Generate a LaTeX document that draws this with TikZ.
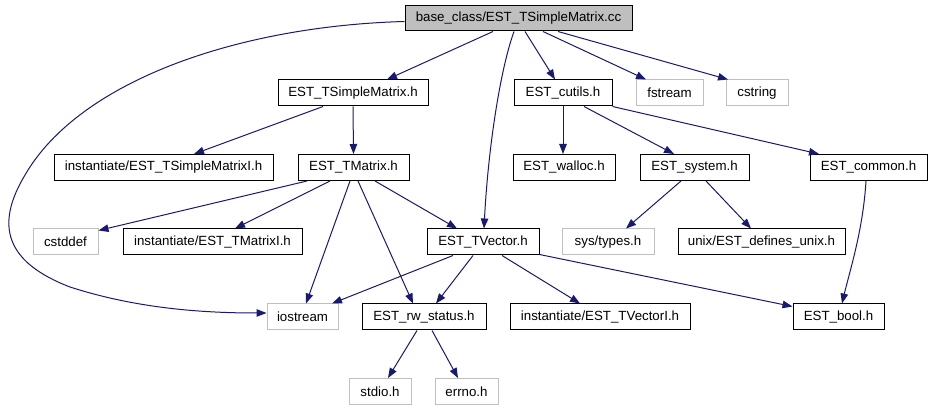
\documentclass[tikz,border=0pt]{standalone}
\usepackage{fontspec}
\setmainfont{Liberation Sans}
\usetikzlibrary{arrows.meta}
\definecolor{edgeblue}{HTML}{191970}
\definecolor{lgray}{HTML}{BFBFBF}
\begin{document}
\begin{tikzpicture}[x=1pt,y=-1pt,
  box/.style={draw=black, fill=white, line width=1pt, minimum height=26pt, inner sep=0pt,
    font=\fontsize{13.3}{16}\selectfont},
  gbox/.style={box, draw=lgray},
  rootbox/.style={box, fill=lgray, minimum height=25pt},
  edge/.style={draw=edgeblue, line width=1pt, -{Triangle[length=10pt,width=7.5pt]}}]
\useasboundingbox (0,0) rectangle (932,411);
% nodes
\node[rootbox, minimum width=227pt] (root) at (518.5,18.5) {base\_class/EST\_TSimpleMatrix.cc};
\node[box, minimum width=150pt] (tsm) at (353,93) {EST\_TSimpleMatrix.h};
\node[box, minimum width=98pt] (cutils) at (563,93) {EST\_cutils.h};
\node[gbox, minimum width=67pt] (fstream) at (669.5,93) {fstream};
\node[gbox, minimum width=62pt] (cstring) at (757,93) {cstring};
\node[box, minimum width=219pt] (smi) at (163.5,167.5) {instantiate/EST\_TSimpleMatrixI.h};
\node[box, minimum width=111pt] (tmatrix) at (353.5,167.5) {EST\_TMatrix.h};
\node[box, minimum width=102pt] (walloc) at (564,167.5) {EST\_walloc.h};
\node[box, minimum width=109pt] (system) at (694.5,167.5) {EST\_system.h};
\node[box, minimum width=117pt] (common) at (868.5,167.5) {EST\_common.h};
\node[gbox, minimum width=65pt] (cstddef) at (65.5,242) {cstddef};
\node[box, minimum width=179pt] (tmi) at (212.5,242) {instantiate/EST\_TMatrixI.h};
\node[box, minimum width=112pt] (tvector) at (483,242) {EST\_TVector.h};
\node[gbox, minimum width=92pt] (types) at (608,242) {sys/types.h};
\node[box, minimum width=167pt] (defines) at (761.5,242) {unix/EST\_defines\_unix.h};
\node[gbox, minimum width=71pt] (iostream) at (302.5,317) {iostream};
\node[box, minimum width=124pt] (rw) at (424,317) {EST\_rw\_status.h};
\node[box, minimum width=180pt] (tvi) at (600,317) {instantiate/EST\_TVectorI.h};
\node[box, minimum width=91pt] (bool) at (838.5,317) {EST\_bool.h};
\node[gbox, minimum width=62pt] (stdio) at (380,391.5) {stdio.h};
\node[gbox, minimum width=63pt] (errno) at (466.5,391.5) {errno.h};
% edges
\draw[edge] ([xshift=-25.5pt]root.south) -- ([xshift=34pt]tsm.north);
\draw[edge] ([xshift=6.5pt]root.south) -- ([xshift=-8pt]cutils.north);
\draw[edge] ([xshift=24.5pt]root.south) -- ([xshift=-23.5pt]fstream.north);
\draw[edge] ([xshift=39.5pt]root.south) -- ([xshift=-29pt]cstring.north);
\draw[edge] ([xshift=-4.5pt]root.south) .. controls (500,70) and (488,150) .. ([xshift=1pt]tvector.north);
\draw[edge] ([yshift=-3pt]root.west) .. controls (240,26) and (80,80) .. (25,175)
   .. controls (-5,225) and (5,262) .. (70,287)
   .. controls (135,308) and (200,313) .. ([yshift=4pt]iostream.west);
\draw[edge] ([xshift=-30pt]tsm.south) -- ([xshift=30.5pt]smi.north);
\draw[edge] (tsm.south) -- (tmatrix.north);
\draw[edge] ([xshift=-46.5pt]tmatrix.south) -- ([yshift=-2pt]cstddef.north east);
\draw[edge] ([xshift=-23.5pt]tmatrix.south) -- ([xshift=22.5pt]tmi.north);
\draw[edge] ([xshift=-3.5pt]tmatrix.south) -- ([xshift=3.5pt]iostream.north);
\draw[edge] ([xshift=4.5pt]tmatrix.south) -- ([xshift=-11pt]rw.north);
\draw[edge] ([xshift=21.5pt]tmatrix.south) -- ([xshift=-26pt]tvector.north);
\draw[edge] ([xshift=-30pt]tvector.south) -- ([xshift=29.5pt]iostream.north);
\draw[edge] ([xshift=-10pt]tvector.south) -- ([xshift=12pt]rw.north);
\draw[edge] ([xshift=19pt]tvector.south) -- ([xshift=-20pt]tvi.north);
\draw[edge] ([yshift=1pt]tvector.south east) -- ([yshift=-3pt]bool.north west);
\draw[edge] (cutils.south) -- ([xshift=-1pt]walloc.north);
\draw[edge] ([xshift=21pt]cutils.south) -- ([xshift=-20.5pt]system.north);
\draw[edge] (cutils.south east) -- ([xshift=-49.5pt]common.north);
\draw[edge] ([xshift=-13.5pt]system.south) -- ([xshift=18pt]types.north);
\draw[edge] ([xshift=11.5pt]system.south) -- ([xshift=-10.5pt]defines.north);
\draw[edge] ([xshift=-2.5pt]common.south) .. controls (863,230) and (850,270) .. ([xshift=3.5pt]bool.north);
\draw[edge] ([xshift=-7pt]rw.south) -- ([xshift=8pt]stdio.north);
\draw[edge] ([xshift=8pt]rw.south) -- ([xshift=-8.5pt]errno.north);
\end{tikzpicture}
\end{document}
